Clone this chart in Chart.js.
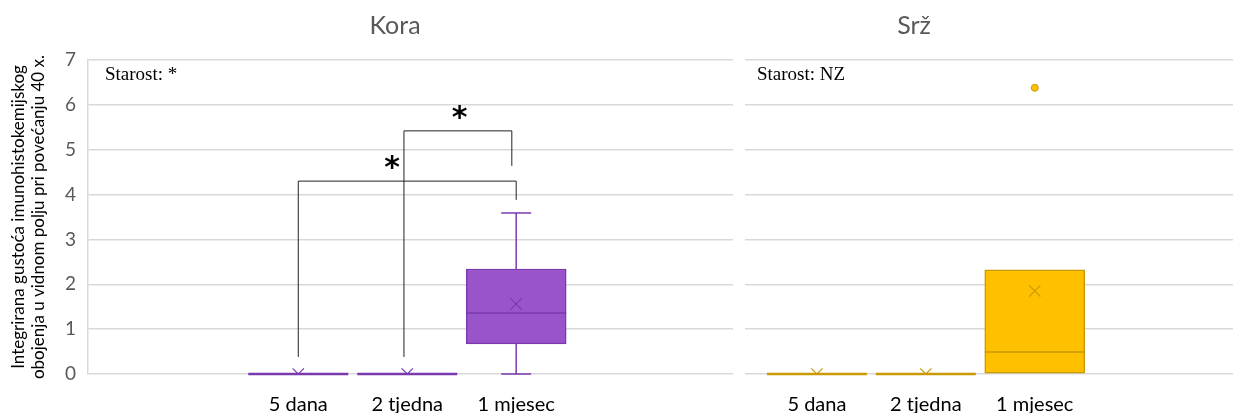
<!DOCTYPE html>
<html>
<head>
<meta charset="utf-8">
<script src="https://cdn.jsdelivr.net/npm/chart.js@4/dist/chart.umd.min.js"></script>
<style>
  html, body { margin: 0; padding: 0; background: #fff; }
  #wrap { position: relative; width: 1233px; height: 413px; }
  #kora { position: absolute; left: 0; top: 0; }
  #srz { position: absolute; left: 745px; top: 0; }
</style>
</head>
<body>
<div id="wrap">
  <canvas id="kora" width="745" height="413"></canvas>
  <canvas id="srz" width="488" height="413"></canvas>
</div>
<script>
// Categories (shared by both panels)
const categories = ['5 dana', '2 tjedna', '1 mjesec'];

// Kora - box plot statistics
const koraMin = [0, 0, 0];
const koraQ1 = [0, 0, 0.67];
const koraMedian = [0, 0, 1.36];
const koraQ3 = [0, 0, 2.34];
const koraMax = [0, 0, 3.59];
const koraMean = [0, 0, 1.56];
const koraOutlierCat = [];
const koraOutlierVal = [];

// Srž - box plot statistics
const srzMin = [0, 0, 0];
const srzQ1 = [0, 0, 0];
const srzMedian = [0, 0, 0.49];
const srzQ3 = [0, 0, 2.32];
const srzMax = [0, 0, 2.32];
const srzMean = [0, 0, 1.85];
const srzOutlierCat = [2];
const srzOutlierVal = [6.38];

// significance brackets (Kora), in category / value units
const bracketFrom = [0, 0.97];
const bracketTo = [2, 1.96];
const bracketLevel = [4.30, 5.42];
const bracketFromEnd = [0.38, 0.38];
const bracketToEnd = [3.88, 4.64];
const bracketStarX = [0.86, 1.48];
const bracketLabel = ['*', '*'];

const yTitle = ['Integrirana gustoća imunohistokemijskog', 'obojenja u vidnom polju pri povećanju 40 x.'];

const SANS = 'Lato, "Open Sans", sans-serif';

// whiskers, medians, brackets and panel texts drawn on top of Chart.js scales
const boxExtras = {
  id: 'boxExtras',
  beforeDatasetsDraw(chart, args, o) {
    const { ctx, scales: { x, y } } = chart;
    ctx.save();
    ctx.strokeStyle = o.line;
    ctx.lineWidth = 1.5;
    o.q1.forEach((q1, i) => {
      const px = x.getPixelForValue(i);
      [[q1, o.min[i]], [o.q3[i], o.max[i]]].forEach(([a, b]) => {
        if (a === b) return;
        ctx.beginPath();
        ctx.moveTo(px, y.getPixelForValue(a));
        ctx.lineTo(px, y.getPixelForValue(b));
        ctx.stroke();
        ctx.beginPath();
        ctx.moveTo(px - 15, y.getPixelForValue(b));
        ctx.lineTo(px + 15, y.getPixelForValue(b));
        ctx.stroke();
      });
    });
    ctx.restore();
  },
  afterDatasetsDraw(chart, args, o) {
    const { ctx, scales: { x, y }, chartArea } = chart;
    const bars = chart.getDatasetMeta(2).data;
    ctx.save();
    // medians
    ctx.strokeStyle = o.line;
    o.median.forEach((m, i) => {
      const w = bars[i].width;
      const px = x.getPixelForValue(i);
      ctx.lineWidth = o.q1[i] === o.q3[i] ? 2.5 : 1.5;
      ctx.beginPath();
      ctx.moveTo(px - w / 2, y.getPixelForValue(m));
      ctx.lineTo(px + w / 2, y.getPixelForValue(m));
      ctx.stroke();
    });
    // brackets
    if (o.brackets) {
      ctx.strokeStyle = '#222';
      ctx.lineWidth = 1;
      ctx.fillStyle = '#000';
      ctx.font = 'bold 30px "DejaVu Sans", sans-serif';
      ctx.textAlign = 'center';
      ctx.textBaseline = 'alphabetic';
      bracketFrom.forEach((f, i) => {
        const x1 = x.getPixelForValue(f), x2 = x.getPixelForValue(bracketTo[i]);
        const yl = y.getPixelForValue(bracketLevel[i]);
        ctx.beginPath();
        ctx.moveTo(x1, y.getPixelForValue(bracketFromEnd[i]));
        ctx.lineTo(x1, yl);
        ctx.lineTo(x2, yl);
        ctx.lineTo(x2, y.getPixelForValue(bracketToEnd[i]));
        ctx.stroke();
        ctx.fillText(bracketLabel[i], x.getPixelForValue(bracketStarX[i]), yl - 4);
      });
    }
    // panel note and title
    ctx.fillStyle = '#000';
    ctx.font = '19px "Liberation Serif", serif';
    ctx.textAlign = 'left';
    ctx.textBaseline = 'alphabetic';
    ctx.fillText(o.note, chartArea.left + o.noteDx, 80);
    ctx.fillStyle = '#595959';
    ctx.font = '25px ' + SANS;
    ctx.textAlign = 'center';
    ctx.fillText(o.title, o.titleX, 34);
    ctx.restore();
  }
};

function makePanel(id, s, colors, extra) {
  const meanData = categories.map((c, i) => ({ x: i, y: s.mean[i] }));
  const outData = s.outCat.map((c, i) => ({ x: c, y: s.outVal[i] }));
  const boxData = categories.map((c, i) => ({ x: i, y: [s.q1[i], s.q3[i]] }));
  return new Chart(document.getElementById(id), {
    data: {
      datasets: [
        { type: 'scatter', data: meanData, pointStyle: 'crossRot', pointRadius: 8,
          borderColor: colors.line, borderWidth: 1.2, backgroundColor: colors.line, clip: 0 },
        { type: 'scatter', data: outData, pointStyle: 'circle', pointRadius: 3.5,
          borderColor: colors.line, borderWidth: 1, backgroundColor: colors.fill },
        { type: 'bar', data: boxData, backgroundColor: colors.fill, borderColor: colors.line,
          borderWidth: 1.5, borderSkipped: false, barThickness: 100 }
      ]
    },
    options: {
      responsive: false,
      animation: false,
      layout: { autoPadding: false, padding: { top: 60, right: extra.padRight, left: 0, bottom: 0 } },
      plugins: {
        legend: { display: false },
        tooltip: { enabled: false },
        boxExtras: {
          min: s.min, q1: s.q1, median: s.median, q3: s.q3, max: s.max,
          line: colors.line, brackets: extra.brackets, note: extra.note, noteDx: extra.noteDx,
          title: extra.title, titleX: extra.titleX
        }
      },
      scales: {
        x: {
          type: 'linear',
          offset: false,
          min: extra.xMin,
          max: extra.xMax,
          grid: { display: false },
          border: { display: false },
          afterBuildTicks: sc => { sc.ticks = categories.map((c, i) => ({ value: i })); },
          afterFit: sc => { sc.height = 39; },
          ticks: {
            autoSkip: false, maxRotation: 0, padding: 11,
            color: '#000', font: { family: SANS, size: 20 },
            callback: v => categories[v]
          }
        },
        y: {
          min: 0,
          max: 7,
          grid: { color: '#d9d9d9', lineWidth: 1.5, drawTicks: false },
          border: { display: extra.showY, color: '#d9d9d9', width: 1.5 },
          afterFit: sc => { sc.width = extra.yWidth; },
          ticks: {
            display: extra.showY, stepSize: 1, padding: 12,
            color: '#595959', font: { family: SANS, size: 19 }
          },
          title: {
            display: extra.showY, text: yTitle, color: '#000',
            font: { family: SANS, size: 17 }, padding: { top: 8, bottom: 0 }
          }
        }
      }
    },
    plugins: [boxExtras]
  });
}

makePanel('kora',
  { min: koraMin, q1: koraQ1, median: koraMedian, q3: koraQ3, max: koraMax, mean: koraMean,
    outCat: koraOutlierCat, outVal: koraOutlierVal },
  { fill: '#9954cc', line: '#7a3aae' },
  { padRight: 12, xMin: -1.93, xMax: 3.99, showY: true, yWidth: 88, brackets: true,
    note: 'Starost: *', noteDx: 17, title: 'Kora', titleX: 395 });

makePanel('srz',
  { min: srzMin, q1: srzQ1, median: srzMedian, q3: srzQ3, max: srzMax, mean: srzMean,
    outCat: srzOutlierCat, outVal: srzOutlierVal },
  { fill: '#ffc000', line: '#c99a06' },
  { padRight: 0, xMin: -0.66, xMax: 3.82, showY: false, yWidth: 0, brackets: false,
    note: 'Starost: NZ', noteDx: 12, title: 'Srž', titleX: 169 });
</script>
</body>
</html>
